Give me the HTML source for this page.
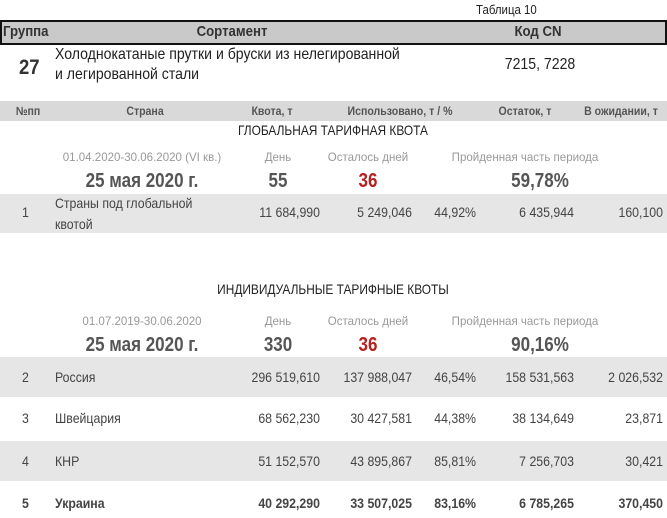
<!DOCTYPE html>
<html><head><meta charset="utf-8"><style>
*{margin:0;padding:0;box-sizing:border-box}
body{width:667px;height:518px;background:#fff;position:relative;overflow:hidden;font-family:"Liberation Sans",sans-serif;color:#333}
.a{position:absolute;white-space:nowrap;line-height:1;transform-origin:0 50%;transform:scaleX(var(--s,.88))}
.c{transform-origin:50% 50%;transform:translateX(-50%) scaleX(var(--s,.88))}
.r{transform-origin:100% 50%;transform:translateX(-100%) scaleX(var(--s,.88))}
.bg{position:absolute;left:0;width:667px}
.g{color:#999;font-size:12px;--s:.96}
.big{font-size:20px;font-weight:bold;color:#555;--s:.85}
.red{color:#b52020}
.n{font-size:14px;color:#444;--s:.88}
.hd{font-size:12px;font-weight:bold;color:#555;--s:.88}
</style></head><body>
<div class="a" style="left:476px;top:3px;font-size:13px;color:#222">Таблица 10</div>
<div class="bg" style="top:20px;height:25px;background:#c9c9c9;border:2px solid #111"></div>
<div class="a" style="left:3px;top:24px;font-size:15px;font-weight:bold;color:#333">Группа</div>
<div class="a c" style="left:232px;top:24px;font-size:15px;font-weight:bold;color:#333">Сортамент</div>
<div class="a c" style="left:538px;top:24px;font-size:15px;font-weight:bold;color:#333">Код CN</div>
<div class="a" style="left:19px;top:57px;font-size:21px;font-weight:bold;color:#333">27</div>
<div class="a" style="left:55px;top:47px;font-size:16px;color:#222">Холоднокатаные прутки и бруски из нелегированной</div>
<div class="a" style="left:55px;top:67px;font-size:16px;color:#222">и легированной стали</div>
<div class="a c" style="left:540px;top:57px;font-size:16px;color:#222">7215, 7228</div>

<div class="bg" style="top:101px;height:20px;background:#d9d9d9"></div>
<div class="a c hd" style="left:28px;top:105px">№пп</div>
<div class="a c hd" style="left:145px;top:105px">Страна</div>
<div class="a c hd" style="left:272px;top:105px">Квота, т</div>
<div class="a c hd" style="left:400px;top:105px">Использовано, т / %</div>
<div class="a c hd" style="left:525px;top:105px">Остаток, т</div>
<div class="a c hd" style="left:621px;top:105px">В ожидании, т</div>

<div class="a c" style="left:333px;top:123px;font-size:14px;color:#222;--s:.85">ГЛОБАЛЬНАЯ ТАРИФНАЯ КВОТА</div>
<div class="a c g" style="left:142px;top:151px">01.04.2020-30.06.2020 (VI кв.)</div>
<div class="a c g" style="left:278px;top:151px">День</div>
<div class="a c g" style="left:368px;top:151px">Осталось дней</div>
<div class="a c g" style="left:525px;top:151px">Пройденная часть периода</div>
<div class="a c big" style="left:142px;top:171px">25 мая 2020 г.</div>
<div class="a c big" style="left:278px;top:171px">55</div>
<div class="a c big red" style="left:368px;top:171px">36</div>
<div class="a c big" style="left:540px;top:171px">59,78%</div>

<div class="bg" style="top:194px;height:39px;background:#e6e6e6"></div>
<div class="a n" style="left:22px;top:205px">1</div>
<div class="a n" style="left:55px;top:196px">Страны под глобальной</div>
<div class="a n" style="left:55px;top:217px">квотой</div>
<div class="a r n" style="left:320px;top:205px">11 684,990</div>
<div class="a r n" style="left:412px;top:205px">5 249,046</div>
<div class="a r n" style="left:476px;top:205px">44,92%</div>
<div class="a r n" style="left:574px;top:205px">6 435,944</div>
<div class="a r n" style="left:663px;top:205px">160,100</div>

<div class="a c" style="left:333px;top:282px;font-size:14px;color:#222;--s:.85">ИНДИВИДУАЛЬНЫЕ ТАРИФНЫЕ КВОТЫ</div>
<div class="a c g" style="left:142px;top:315px">01.07.2019-30.06.2020</div>
<div class="a c g" style="left:278px;top:315px">День</div>
<div class="a c g" style="left:368px;top:315px">Осталось дней</div>
<div class="a c g" style="left:525px;top:315px">Пройденная часть периода</div>
<div class="a c big" style="left:142px;top:335px">25 мая 2020 г.</div>
<div class="a c big" style="left:278px;top:335px">330</div>
<div class="a c big red" style="left:368px;top:335px">36</div>
<div class="a c big" style="left:540px;top:335px">90,16%</div>

<div class="bg" style="top:357px;height:40px;background:#e6e6e6"></div>
<div class="a n" style="left:22px;top:370px">2</div>
<div class="a n" style="left:55px;top:370px">Россия</div>
<div class="a r n" style="left:320px;top:370px">296 519,610</div>
<div class="a r n" style="left:412px;top:370px">137 988,047</div>
<div class="a r n" style="left:476px;top:370px">46,54%</div>
<div class="a r n" style="left:574px;top:370px">158 531,563</div>
<div class="a r n" style="left:663px;top:370px">2 026,532</div>

<div class="a n" style="left:22px;top:411px">3</div>
<div class="a n" style="left:55px;top:411px">Швейцария</div>
<div class="a r n" style="left:320px;top:411px">68 562,230</div>
<div class="a r n" style="left:412px;top:411px">30 427,581</div>
<div class="a r n" style="left:476px;top:411px">44,38%</div>
<div class="a r n" style="left:574px;top:411px">38 134,649</div>
<div class="a r n" style="left:663px;top:411px">23,871</div>

<div class="bg" style="top:441px;height:40px;background:#e6e6e6"></div>
<div class="a n" style="left:22px;top:454px">4</div>
<div class="a n" style="left:55px;top:454px">КНР</div>
<div class="a r n" style="left:320px;top:454px">51 152,570</div>
<div class="a r n" style="left:412px;top:454px">43 895,867</div>
<div class="a r n" style="left:476px;top:454px">85,81%</div>
<div class="a r n" style="left:574px;top:454px">7 256,703</div>
<div class="a r n" style="left:663px;top:454px">30,421</div>

<div class="a n" style="left:22px;top:496px;font-weight:bold">5</div>
<div class="a n" style="left:55px;top:496px;font-weight:bold">Украина</div>
<div class="a r n" style="left:320px;top:496px;font-weight:bold">40 292,290</div>
<div class="a r n" style="left:412px;top:496px;font-weight:bold">33 507,025</div>
<div class="a r n" style="left:476px;top:496px;font-weight:bold">83,16%</div>
<div class="a r n" style="left:574px;top:496px;font-weight:bold">6 785,265</div>
<div class="a r n" style="left:663px;top:496px;font-weight:bold">370,450</div>
</body></html>
